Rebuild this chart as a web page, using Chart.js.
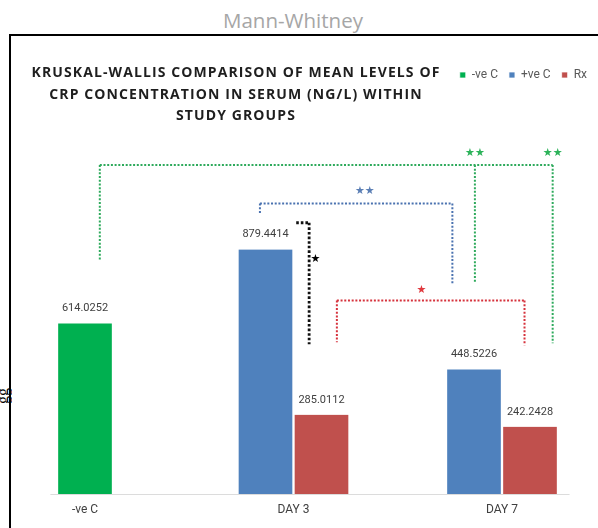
<!DOCTYPE html>
<html>
<head>
<meta charset="utf-8">
<script src="https://cdn.jsdelivr.net/npm/chart.js@4.4.1/dist/chart.umd.min.js"></script>
<style>
  html, body { margin: 0; padding: 0; background: #fff; overflow: hidden; }
  body { width: 598px; height: 528px; position: relative; }
  #frame { position: absolute; left: 9px; top: 34px; width: 800px; height: 800px; border: 2px solid #000; }
  #mw { position: absolute; left: 193px; width: 200px; top: 10px; text-align: center;
        font: 400 20.5px/20.5px 'Open Sans', sans-serif; color: #a6a6a6; }
  #gg { position: absolute; left: -5px; top: 388px; font: 16px/16px 'Liberation Serif', serif; color: #000;
        writing-mode: vertical-rl; transform: rotate(180deg); }
  #title { position: absolute; left: 6px; width: 460px; top: 61px; text-align: center;
           font: 700 14px/21.5px 'Open Sans', sans-serif; letter-spacing: 1.1px; color: #1e1e1e; }
  #c { position: absolute; left: 0; top: 0; }
</style>
</head>
<body>
<div id="frame"></div>
<div id="mw">Mann-Whitney</div>
<div id="gg">gg</div>
<canvas id="c" width="598" height="528"></canvas>
<div id="title">KRUSKAL-WALLIS COMPARISON OF MEAN LEVELS OF<br>CRP CONCENTRATION IN SERUM (NG/L) WITHIN<br>STUDY GROUPS</div>
<script>
// ── data ─────────────────────────────────────────────
const GROUPS = ['-ve C', 'DAY 3', 'DAY 7'];
const NEG_CTRL = [614.0252, null, null];
const POS_CTRL = [null, 879.4414, 448.5226];
const RX = [null, 285.0112, 242.2428];

const GREEN = '#00b050', BLUE = '#4f81bd', RED = '#c0504d';

// significance brackets: x = category position (fractional index), y = value level
const BRACKETS = [
  { color: '#2eaa5c', top: 1184, legs: [[0.071, 839], [1.870, 760], [2.243, 543]] },
  { color: '#4a72b0', top: 1045, legs: [[0.839, 1005], [1.762, 756]] },
  { color: '#d6323c', top: 696, legs: [[1.208, 546], [2.108, 535]] },
  { color: '#111111', top: 976, width: 2.8, dash: [2.6, 2], legs: [[1.013, 976], [1.075, 539]] },
];
const STARS = [
  { text: '★★', color: '#2db35a', x: 1.870, y: 1228 },
  { text: '★★', color: '#2db35a', x: 2.243, y: 1228 },
  { text: '★★', color: '#5b7fb5', x: 1.342, y: 1090 },
  { text: '★', color: '#e0393e', x: 1.614, y: 735 },
  { text: '★', color: '#000000', x: 1.105, y: 846 },
];

// baseline under the bars (Excel-like light axis line)
const baseLine = {
  id: 'baseLine',
  beforeDatasetsDraw(chart) {
    const { ctx, scales: { x, y } } = chart;
    const py = Math.round(y.getPixelForValue(0)) + 0.5;
    ctx.save();
    ctx.strokeStyle = '#dcdcdc';
    ctx.lineWidth = 1;
    ctx.beginPath();
    ctx.moveTo(x.getPixelForValue(-0.166), py);
    ctx.lineTo(x.getPixelForValue(2.324), py);
    ctx.stroke();
    ctx.restore();
  },
};

// value labels above each bar
const valueLabels = {
  id: 'valueLabels',
  afterDatasetsDraw(chart) {
    const { ctx } = chart;
    ctx.save();
    ctx.font = '11px Roboto';
    ctx.fillStyle = '#404040';
    ctx.textAlign = 'center';
    ctx.textBaseline = 'middle';
    chart.data.datasets.forEach((ds, di) => {
      chart.getDatasetMeta(di).data.forEach((bar, i) => {
        const v = ds.data[i];
        if (v == null) return;
        ctx.fillText(v.toFixed(4), bar.x, bar.y - 15);
      });
    });
    ctx.restore();
  },
};

// dotted significance brackets + stars
const brackets = {
  id: 'brackets',
  afterDatasetsDraw(chart) {
    const { ctx, scales: { x, y } } = chart;
    ctx.save();
    BRACKETS.forEach((b) => {
      ctx.strokeStyle = b.color;
      ctx.lineWidth = b.width || 2;
      ctx.setLineDash(b.dash || [2, 1.7]);
      const top = y.getPixelForValue(b.top);
      const xs = b.legs.map((l) => x.getPixelForValue(l[0]));
      ctx.beginPath();
      ctx.moveTo(Math.min(...xs), top);
      ctx.lineTo(Math.max(...xs), top);
      b.legs.forEach((l, i) => {
        if (l[1] === b.top) return;
        ctx.moveTo(xs[i], top);
        ctx.lineTo(xs[i], y.getPixelForValue(l[1]));
      });
      ctx.stroke();
    });
    ctx.setLineDash([]);
    ctx.font = '11px "DejaVu Sans"';
    ctx.textAlign = 'center';
    ctx.textBaseline = 'middle';
    STARS.forEach((s) => {
      ctx.fillStyle = s.color;
      ctx.fillText(s.text, x.getPixelForValue(s.x), y.getPixelForValue(s.y));
    });
    ctx.restore();
  },
};

const barStyle = { borderColor: '#ffffff', borderWidth: { left: 1.5, right: 1.5, top: 0, bottom: 0 } };

new Chart(document.getElementById('c'), {
  type: 'bar',
  data: {
    labels: GROUPS,
    datasets: [
      { label: '-ve C', data: NEG_CTRL, backgroundColor: GREEN, ...barStyle },
      { label: '+ve C', data: POS_CTRL, backgroundColor: BLUE, ...barStyle },
      { label: 'Rx', data: RX, backgroundColor: RED, ...barStyle },
    ],
  },
  options: {
    responsive: false,
    animation: false,
    clip: false,
    datasets: { bar: { skipNull: true, barThickness: 56 } },
    layout: { padding: { top: 58, bottom: 1.5, left: 0, right: 0 } },
    plugins: {
      tooltip: { enabled: false },
      title: { display: false },
      legend: {
        position: 'top',
        align: 'end',
        labels: { boxWidth: 6, boxHeight: 6, padding: 11, color: '#595959', font: { family: 'Roboto', size: 12 } },
      },
    },
    scales: {
      x: {
        type: 'category',
        offset: false,
        grid: { display: false, drawTicks: false },
        border: { display: false },
        ticks: { padding: 9, color: '#404040', font: { family: 'Roboto', size: 12 }, maxRotation: 0, autoSkip: false },
      },
      y: {
        type: 'linear',
        min: 0,
        max: 1450,
        grid: { display: false, drawTicks: false },
        border: { display: false },
        ticks: { display: false },
        afterFit: (s) => { s.width = 85; },
      },
      y2: {
        type: 'linear',
        position: 'right',
        grid: { display: false, drawTicks: false },
        border: { display: false },
        ticks: { display: false },
        afterFit: (s) => { s.width = 96; },
      },
    },
  },
  plugins: [baseLine, valueLabels, brackets],
});
</script>
</body>
</html>
